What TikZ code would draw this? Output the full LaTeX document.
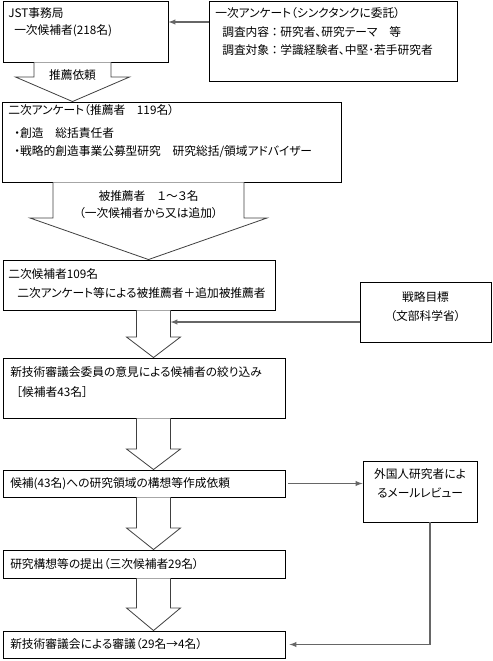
\documentclass[tikz,border=0pt]{standalone}
\usepackage{fontspec}
\setmainfont{Noto Sans CJK JP}[RawFeature=+palt]
\usepackage{tikz}
\usetikzlibrary{arrows,positioning,fit,calc}

% block arrow: from node, to node, centre x, half shaft, half head, head y
\newcommand{\hollowarrow}[6]{%
	\draw[blockarrow] ({#3-#4},0 |- #1.south) -- ({#3-#4},#6) -- ({#3-#5},#6)
		-- ({#3},0 |- #2.north) -- ({#3+#5},#6) -- ({#3+#4},#6) -- ({#3+#4},0 |- #1.south);
}

\begin{document}
\begin{tikzpicture}[
			x = 0.75pt, y = -0.75pt,
			every node/.style = {font = \fontsize{8.8pt}{10pt}\selectfont},
			box/.style = {draw, line width = 0.7pt, inner sep = 0pt},
			txt/.style = {anchor = west, inner sep = 0pt},
			ctxt/.style = {inner sep = 0pt, align = center},
			blockarrow/.style = {draw = black!75, fill = white, line width = 0.6pt},
			link/.style = {draw = black!60, line width = 0.8pt, -latex}
			]

			\useasboundingbox (0,0) rectangle (493,661);

			% boxes
			\node[box, fit = {(3,1) (168,62)}] (jst) {};
			\node[box, fit = {(209,1) (457,81)}] (ank) {};
			\node[box, fit = {(2,102) (341,182)}] (sur2) {};
			\node[box, fit = {(3,260) (275,310)}] (cand2) {};
			\node[box, fit = {(360,282) (491,342)}] (goal) {};
			\node[box, fit = {(3,358) (285,418)}] (narrow) {};
			\node[box, fit = {(3,470) (285,497)}] (req) {};
			\node[box, fit = {(363,461) (477,522)}] (review) {};
			\node[box, fit = {(3,550) (285,578)}] (plan) {};
			\node[box, fit = {(3,631) (285,658)}] (final) {};

			% block arrows
			\hollowarrow{jst}{sur2}{72.5}{38.5}{57}{77}
			\hollowarrow{sur2}{cand2}{148.5}{95.5}{118.5}{218}
			\foreach \a/\b/\h in {cand2/narrow/337, narrow/req/449, req/plan/528, plan/final/608}{
				\hollowarrow{\a}{\b}{153.5}{17}{27}{\h}
			}

			% texts
			\node[txt] (jst1) at (8,13) {JST事務局};
			\node[txt] (jst2) at (14,31) {一次候補者(218名)};
			\node[txt] (ank1) at (215,13) {一次アンケート（シンクタンクに委託）};
			\node[txt] (ank2) at (222,32) {調査内容 ： 研究者、研究テーマ　等};
			\node[txt] (ank3) at (222,50) {調査対象 ： 学識経験者、中堅･若手研究者};
			\node[ctxt] (req1) at (72.5,75) {推薦依頼};
			\node[txt] (sur1) at (8,110) {二次アンケート（推薦者　119名）};
			\node[txt] (sur2a) at (14,133) {・創造　総括責任者};
			\node[txt] (sur2b) at (14,152) {・戦略的創造事業公募型研究　研究総括/領域アドバイザー};
			\node[ctxt] (rec1) at (148.5,196) {被推薦者　１～３名};
			\node[ctxt] (rec2) at (148.5,213) {（一次候補者から又は追加）};
			\node[txt] (cand1) at (8,274) {二次候補者109名};
			\node[txt] (cand2a) at (17,293) {二次アンケート等による被推薦者＋追加被推薦者};
			\node[ctxt] (goal1) at (425.5,297) {戦略目標};
			\node[ctxt] (goal2) at (425.5,316) {（文部科学省）};
			\node[txt] (nar1) at (10,372) {新技術審議会委員の意見による候補者の絞り込み};
			\node[txt] (nar2) at (16,392) {［候補者43名］};
			\node[txt] (req2) at (10,483.5) {候補(43名)への研究領域の構想等作成依頼};
			\node[ctxt, text width = 105pt] (rev1) at (420,483.5) {外国人研究者によ\\[4pt]るメールレビュー};
			\node[txt] (plan1) at (10,564) {研究構想等の提出（三次候補者29名）};
			\node[txt] (fin1) at (10,644.5) {新技術審議会による審議（29名→4名）};

			% connectors
			\coordinate (merge) at (170.5,322);
			\draw[link] (ank.west |- 0,22) -- (jst.east |- 0,22);
			\draw[link] (goal.west |- merge) -- (merge);
			\draw[link, shorten < = 2pt] (req.east) -- (req.east -| review.west);
			\draw[link, shorten > = 3pt] ([xshift = 7.5pt]review.south) |- (final.east);

		\end{tikzpicture}
\end{document}
